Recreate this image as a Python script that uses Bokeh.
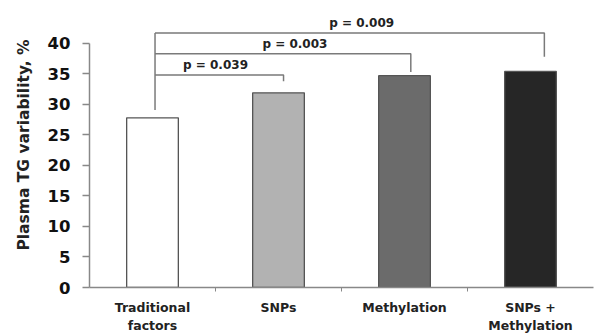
from bokeh.plotting import figure
from bokeh.models import Range1d, FixedTicker, ColumnDataSource, Title
from bokeh.embed import file_html
from bokeh.resources import INLINE
from bokeh.core.properties import value

categories = ["Traditional\nfactors", "SNPs", "Methylation", "SNPs +\nMethylation"]
values = [27.8, 31.9, 34.7, 35.4]
bar_colors = ["#ffffff", "#b2b2b2", "#6b6b6b", "#262626"]
y_ticks = [0, 5, 10, 15, 20, 25, 30, 35, 40]
y_title = "Plasma TG variability, %"

p_labels = ["p = 0.039", "p = 0.003", "p = 0.009"]
bracket_target = [1, 2, 3]
bracket_level = [34.8, 38.3, 41.7]
bracket_end = [33.8, 35.3, 37.8]
bracket_right_shift = [0.04, 0.05, 0.11]
label_x = [1.0, 1.63, 2.16]
bracket_left_x = 0.52
bracket_left_bottom = 29.1

FONT = "DejaVu Sans"
px_per_unit = 6.125
top_border = 2
bottom_border = 47
H = 335
W = 594
frame_h = H - top_border - bottom_border

p = figure(width=W, height=H, output_backend="svg", toolbar_location=None,
           x_range=Range1d(0, 4), y_range=Range1d(0, frame_h / px_per_unit),
           min_border_left=89, min_border_right=1, min_border_top=top_border,
           min_border_bottom=bottom_border)
p.outline_line_color = None
p.grid.visible = False
p.background_fill_color = "white"
p.border_fill_color = "white"

xc = [i + 0.5 for i in range(len(categories))]
src = ColumnDataSource(dict(x=xc, top=values, color=bar_colors))
p.vbar(x="x", top="top", width=0.41, bottom=0, fill_color="color",
       line_color="#555555", line_width=1.3, source=src)

# brackets
xs, ys = [], []
top_level = max(bracket_level)
xs.append([bracket_left_x, bracket_left_x])
ys.append([top_level, bracket_left_bottom])
for t, lvl, end, sh in zip(bracket_target, bracket_level, bracket_end, bracket_right_shift):
    rx = t + 0.5 + sh
    xs.append([bracket_left_x, rx, rx])
    ys.append([lvl, lvl, end])
p.multi_line(xs=xs, ys=ys, line_color="#7a7a7a", line_width=1.5)

p.text(x=label_x, y=bracket_level, text=p_labels, text_align="center",
       text_baseline="bottom", y_offset=-3, text_font=value(FONT),
       text_font_style="bold", text_font_size="12px", text_color="#222222")

# x axis
xa = p.xaxis[0]
xa.ticker = FixedTicker(ticks=xc, minor_ticks=[1, 2, 3])
xa.major_label_overrides = {x: c for x, c in zip(xc, categories)}
xa.bounds = (0, 4)
xa.axis_line_color = "#888888"
xa.axis_line_width = 1.5
xa.major_tick_out = 0
xa.major_tick_in = 0
xa.minor_tick_out = 4
xa.minor_tick_in = 0
xa.minor_tick_line_color = "#888888"
xa.major_label_standoff = 8
xa.major_label_text_font = FONT
xa.major_label_text_font_style = "bold"
xa.major_label_text_font_size = "12.5px"
xa.major_label_text_color = "#222222"
xa.major_label_text_line_height = 1.2

# y axis
ya = p.yaxis[0]
ya.ticker = FixedTicker(ticks=y_ticks, minor_ticks=[])
ya.bounds = (0, 40)
ya.axis_line_color = "#888888"
ya.axis_line_width = 1.5
ya.major_tick_line_color = "#888888"
ya.major_tick_line_width = 1.5
ya.major_tick_out = 7
ya.major_tick_in = 0
ya.minor_tick_out = 0
ya.major_label_standoff = 12
ya.major_label_text_font = FONT
ya.major_label_text_font_style = "bold"
ya.major_label_text_font_size = "16.5px"
ya.major_label_text_color = "#111111"

# y-axis title
p.add_layout(Title(text=y_title, align="center", offset=16,
                   text_font=FONT, text_font_style="bold",
                   text_font_size="15.5px", text_color="#222222",
                   standoff=24), "left")

open("out.html", "w").write(file_html(p, INLINE))
